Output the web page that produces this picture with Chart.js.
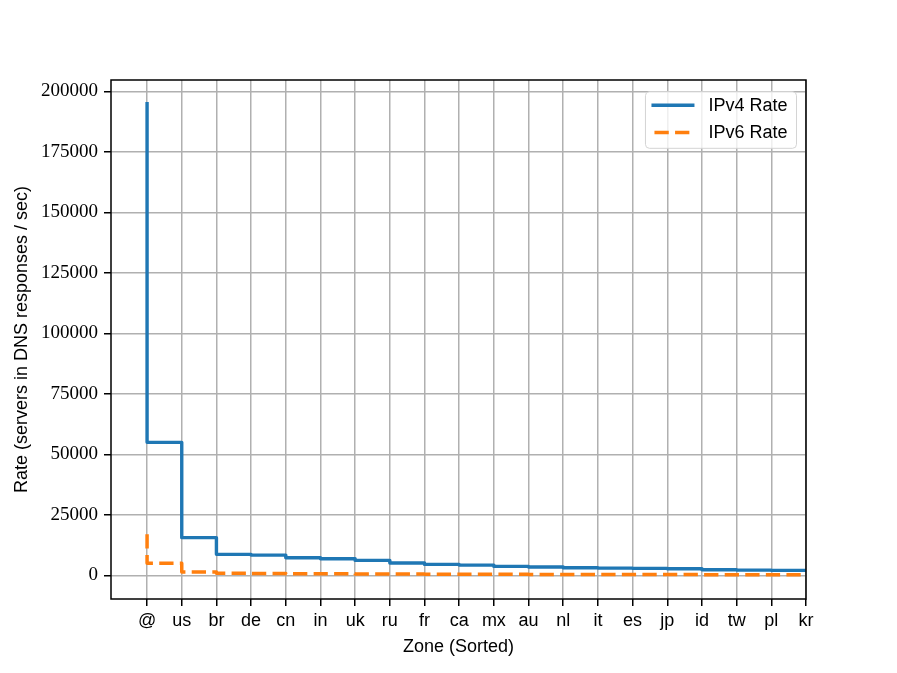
<!DOCTYPE html>
<html>
<head>
<meta charset="utf-8">
<script src="https://cdn.jsdelivr.net/npm/chart.js@4.4.1/dist/chart.umd.min.js"></script>
<style>
  html, body { margin: 0; padding: 0; background: #fff; }
</style>
</head>
<body>
<canvas id="rateChart" width="897" height="673"></canvas>
<script>
// zones sorted by IPv4 rate
const zones = ['@', 'us', 'br', 'de', 'cn', 'in', 'uk', 'ru', 'fr', 'ca',
               'mx', 'au', 'nl', 'it', 'es', 'jp', 'id', 'tw', 'pl', 'kr'];
const ipv4Rate = [195000, 55000, 15600, 8700, 8400, 7300, 6900, 6200, 5100, 4550,
                  4270, 3730, 3450, 3170, 3030, 2900, 2760, 2350, 2200, 2070];
const ipv6Rate = [17000, 5000, 1400, 850, 750, 700, 650, 600, 550, 500,
                  450, 450, 420, 400, 380, 360, 340, 320, 300, 280];
const yTicks = [0, 25000, 50000, 75000, 100000, 125000, 150000, 175000, 200000];

const sans = '"Liberation Sans", Arial, sans-serif';
const serif = '"Liberation Serif", "Times New Roman", serif';

// matplotlib-style frame + legend inside the axes
const frame = {
  id: 'frame',
  afterDraw(chart) {
    const {ctx, chartArea: a} = chart;
    ctx.save();
    ctx.strokeStyle = '#000';
    ctx.lineWidth = 1.5;
    ctx.strokeRect(a.left, a.top, a.right - a.left, a.bottom - a.top);

    const sets = chart.data.datasets;
    ctx.font = '18px ' + sans;
    const textW = Math.max(...sets.map(d => ctx.measureText(d.label).width));
    const handle = 43, gap = 14, rowH = 27.3;
    const w = 6 + handle + gap + textW + 9;
    const h = sets.length * rowH + 2;
    const x = a.right - 9.5 - w;
    const y = a.top + 11.7;
    ctx.beginPath();
    ctx.roundRect(x, y, w, h, 4);
    ctx.fillStyle = 'rgba(255,255,255,0.8)';
    ctx.fill();
    ctx.strokeStyle = '#d4d4d4';
    ctx.lineWidth = 1;
    ctx.stroke();

    sets.forEach((d, i) => {
      const cy = y + 13.5 + i * rowH;
      ctx.beginPath();
      ctx.setLineDash(d.borderDash || []);
      ctx.lineDashOffset = d.borderDash ? -3 : 0;
      ctx.strokeStyle = d.borderColor;
      ctx.lineWidth = d.borderWidth;
      ctx.moveTo(x + 6, cy);
      ctx.lineTo(x + 6 + handle, cy);
      ctx.stroke();
      ctx.setLineDash([]);
      ctx.fillStyle = '#000';
      ctx.textBaseline = 'middle';
      ctx.fillText(d.label, x + 6 + handle + gap, cy + 1);
    });
    ctx.restore();
  }
};

new Chart(document.getElementById('rateChart'), {
  type: 'line',
  data: {
    datasets: [{
      label: 'IPv4 Rate',
      data: zones.map((z, i) => ({x: i, y: ipv4Rate[i]})),
      borderColor: '#1f77b4',
      borderWidth: 3.4,
      stepped: 'after',
      pointRadius: 0,
      fill: false,
      borderJoinStyle: 'round',
      borderCapStyle: 'square'
    }, {
      label: 'IPv6 Rate',
      data: zones.map((z, i) => ({x: i, y: ipv6Rate[i]})),
      borderColor: '#ff7f0e',
      borderWidth: 3.5,
      borderDash: [14.3, 6.3],
      stepped: 'after',
      pointRadius: 0,
      fill: false,
      borderJoinStyle: 'round'
    }]
  },
  options: {
    responsive: false,
    animation: false,
    devicePixelRatio: 1,
    layout: { padding: { left: 0, right: 91, top: 80, bottom: 0 } },
    plugins: {
      legend: { display: false },
      tooltip: { enabled: false }
    },
    scales: {
      x: {
        type: 'linear',
        min: -1.04,
        max: 19,
        afterBuildTicks: s => { s.ticks = zones.map((z, i) => ({value: i})); },
        afterFit: s => { s.height = 74; },
        ticks: {
          callback: v => zones[v],
          color: '#000',
          font: { family: sans, size: 18 },
          padding: 4,
          maxRotation: 0,
          autoSkip: false
        },
        grid: {
          color: '#b0b0b0',
          lineWidth: 1.5,
          tickColor: '#000',
          tickWidth: 1.5,
          tickLength: 7
        },
        border: { display: false },
        title: {
          display: true,
          text: 'Zone (Sorted)',
          color: '#000',
          font: { family: sans, size: 18 },
          padding: { top: 0, bottom: 15 }
        }
      },
      y: {
        min: -9750,
        max: 204750,
        afterBuildTicks: s => { s.ticks = yTicks.map(v => ({value: v})); },
        afterFit: s => { s.width = 111; },
        ticks: {
          callback: v => String(v),
          color: '#000',
          font: { family: serif, size: 19 },
          padding: 6
        },
        grid: {
          color: '#b0b0b0',
          lineWidth: 1.5,
          tickColor: '#000',
          tickWidth: 1.5,
          tickLength: 7
        },
        border: { display: false },
        title: {
          display: true,
          text: 'Rate (servers in DNS responses / sec)',
          color: '#000',
          font: { family: sans, size: 18 },
          padding: { top: 11, bottom: 0 }
        }
      }
    }
  },
  plugins: [frame]
});
</script>
</body>
</html>
